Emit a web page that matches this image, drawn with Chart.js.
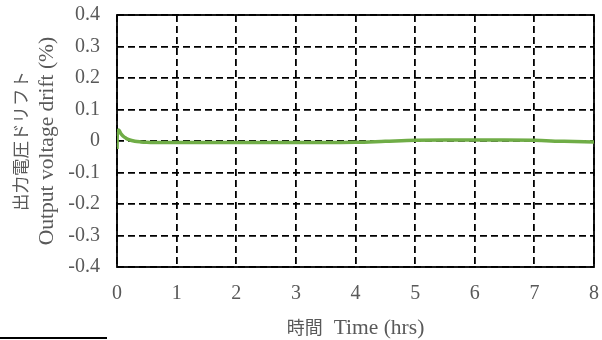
<!DOCTYPE html>
<html>
<head>
<meta charset="utf-8">
<script src="https://cdn.jsdelivr.net/npm/chart.js@4/dist/chart.umd.min.js"></script>
<style>
  html, body { margin: 0; padding: 0; background: #fff; }
  #wrap { position: relative; width: 602px; height: 340px; }
  #rule { position: absolute; left: 0; top: 337px; width: 107px; height: 2px; background: #000; }
</style>
</head>
<body>
<div id="wrap">
  <canvas id="c" width="602" height="340"></canvas>
  <div id="rule"></div>
</div>
<script>
// Elapsed time (hours) and output voltage drift (%)
const timeHours = [0, 0.005, 0.03, 0.06, 0.1, 0.15, 0.2, 0.3, 0.4, 0.5, 0.7, 1, 2, 3, 3.5, 4, 4.5, 5, 5.5, 6, 6.5, 7, 7.5, 8];
const driftPct  = [-0.025, 0.02, 0.035, 0.025, 0.016, 0.009, 0.004, -0.001, -0.003, -0.004, -0.005, -0.005, -0.005, -0.005, -0.005, -0.004, -0.001, 0.002, 0.003, 0.003, 0.003, 0.002, -0.001, -0.003];

const xTicks = [0, 1, 2, 3, 4, 5, 6, 7, 8];
const yTicks = [-0.4, -0.3, -0.2, -0.1, 0, 0.1, 0.2, 0.3, 0.4];

// axis titles: Japanese part and English part
const xTitleJa = '時間';
const xTitleEn = 'Time (hrs)';
const yTitleJa = '出力電圧ドリフト';
const yTitleEn = 'Output voltage drift (%)';

const points = timeHours.map((t, i) => ({ x: t, y: driftPct[i] }));

const serif = "'Liberation Serif', serif";
const cjk = "'Noto Sans CJK JP', sans-serif";
const grey = '#595959';

// solid frame around the plot area
const framePlugin = {
  id: 'frame',
  beforeDatasetsDraw(chart) {
    const { ctx, chartArea: a } = chart;
    ctx.save();
    ctx.strokeStyle = '#000';
    ctx.lineWidth = 1.8;
    ctx.setLineDash([]);
    ctx.strokeRect(a.left, a.top, a.right - a.left, a.bottom - a.top);
    ctx.restore();
  }
};

// bilingual axis titles (two font sizes in one title)
const titlePlugin = {
  id: 'bilingualTitles',
  afterDraw(chart) {
    const { ctx, chartArea: a } = chart;
    ctx.save();
    ctx.fillStyle = grey;
    ctx.textBaseline = 'middle';

    // x title: one row, centred under the plot
    const fJa = '18px ' + cjk, fEn = '21.5px ' + serif, gap = 11;
    ctx.font = fJa; const w1 = ctx.measureText(xTitleJa).width;
    ctx.font = fEn; const w2 = ctx.measureText(xTitleEn).width;
    const cx = (a.left + a.right) / 2;
    let x0 = cx - (w1 + gap + w2) / 2;
    const ty = 327;
    ctx.textAlign = 'left';
    ctx.font = fJa; ctx.fillText(xTitleJa, x0, ty);
    ctx.font = fEn; ctx.fillText(xTitleEn, x0 + w1 + gap, ty + 1);

    // y title: two rotated lines, centred on the plot height
    const cy = (a.top + a.bottom) / 2;
    ctx.textAlign = 'center';
    ctx.save();
    ctx.translate(20, cy);
    ctx.rotate(-Math.PI / 2);
    ctx.font = '17.5px ' + cjk;
    ctx.fillText(yTitleJa, 0, 0);
    ctx.restore();
    ctx.save();
    ctx.translate(47, cy);
    ctx.rotate(-Math.PI / 2);
    ctx.font = '21.5px ' + serif;
    ctx.fillText(yTitleEn, 0, 0);
    ctx.restore();

    ctx.restore();
  }
};

new Chart(document.getElementById('c'), {
  type: 'line',
  data: {
    datasets: [{
      data: points,
      borderColor: '#70AD47',
      borderWidth: 3.5,
      pointRadius: 0,
      fill: false,
      cubicInterpolationMode: 'monotone'
    }]
  },
  options: {
    responsive: false,
    animation: false,
    layout: { padding: { top: 15, right: 8, left: 0, bottom: 0 } },
    plugins: { legend: { display: false }, tooltip: { enabled: false } },
    scales: {
      x: {
        type: 'linear',
        min: 0, max: 8,
        afterBuildTicks(s) { s.ticks = xTicks.map(v => ({ value: v })); },
        afterFit(s) { s.height = 73; s.paddingLeft = 0; s.paddingRight = 0; },
        grid: { color: '#000', lineWidth: 1.8, drawTicks: false },
        border: { display: false, dash: [7, 4] },
        ticks: { color: grey, font: { family: serif, size: 20 }, padding: 15, maxRotation: 0 }
      },
      y: {
        min: -0.4, max: 0.4,
        afterBuildTicks(s) { s.ticks = yTicks.map(v => ({ value: v })); },
        afterFit(s) { s.width = 117; s.paddingTop = 0; s.paddingBottom = 0; },
        grid: { color: '#000', lineWidth: 1.8, drawTicks: false },
        border: { display: false, dash: [7, 4] },
        ticks: {
          color: grey, font: { family: serif, size: 20 }, padding: 17,
          callback: v => (Math.round(v * 10) / 10).toString()
        }
      }
    }
  },
  plugins: [framePlugin, titlePlugin]
});
</script>
</body>
</html>
